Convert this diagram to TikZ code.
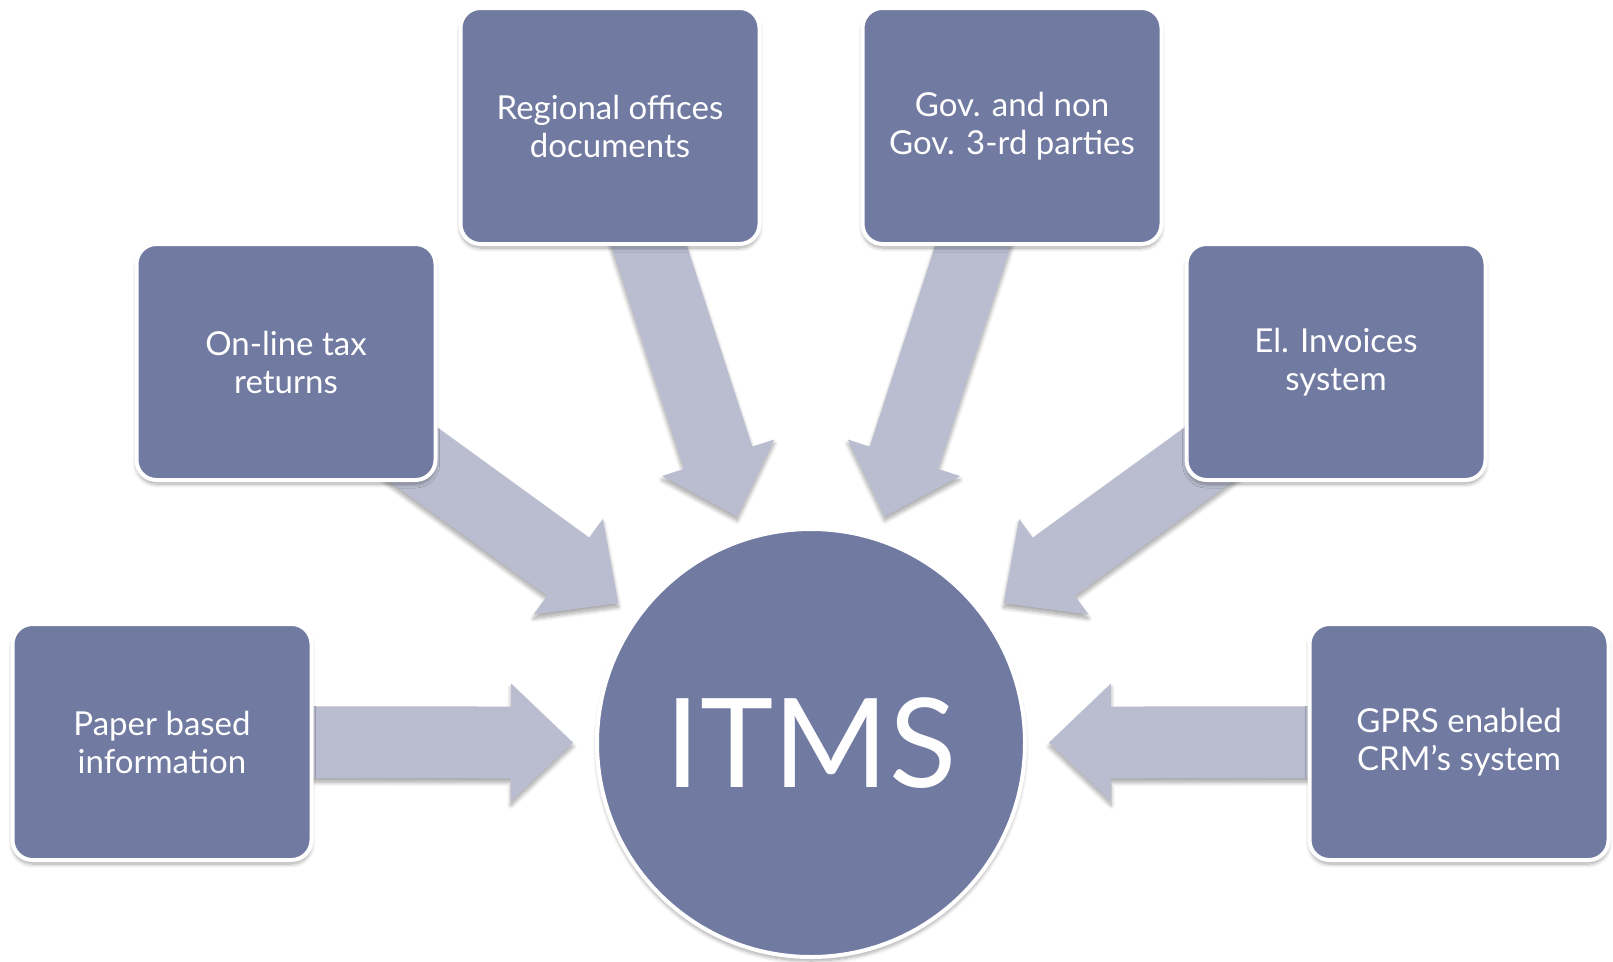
\documentclass[tikz,border=0pt]{standalone}
\usepackage{fontspec}
\setmainfont{Lato}
\usetikzlibrary{calc,shadows,shadows.blur,backgrounds}
\definecolor{boxblue}{RGB}{113,122,161}
\definecolor{arrowgray}{RGB}{185,189,207}
\tikzset{
  softshadow/.style={blur shadow={shadow xshift=0pt, shadow yshift=-4pt,
    shadow blur radius=4pt, shadow blur steps=8, shadow opacity=35}},
  boxstyle/.style={rectangle, rounded corners=20pt, fill=boxblue, draw=white,
    line width=4pt, minimum width=299pt, minimum height=236pt, text=white,
    align=center, font=\fontsize{33}{38}\selectfont, softshadow},
  hubstyle/.style={circle, fill=boxblue, draw=white, line width=4pt,
    minimum size=428pt, text=white, font=\fontsize{124}{130}\selectfont,
    softshadow},
  arrowstyle/.style={fill=arrowgray, softshadow}
}
\newcommand\blockarrow[2]{%
  \coordinate (hb) at ($(#2)!62pt!(#1)$);
  \fill[arrowstyle] ($(#1)!36pt!90:(#2)$) -- ($(hb)!36pt!90:(#2)$)
    -- ($(hb)!59pt!90:(#2)$) -- (#2) -- ($(hb)!59pt!-90:(#2)$)
    -- ($(hb)!36pt!-90:(#2)$) -- ($(#1)!36pt!-90:(#2)$) -- cycle;
}
\begin{document}
\begin{tikzpicture}[x=1pt,y=-1pt]
\useasboundingbox (0,0) rectangle (1613,961);
\node[hubstyle] (itms) at (811,743) {ITMS};
\node[boxstyle] (paper) at (162,742) {Paper based\\information};
\node[boxstyle] (gprs) at (1459,742) {GPRS enabled\\CRM’s system};
\node[boxstyle] (online) at (286,362) {On-line tax\\returns};
\node[boxstyle] (elinv) at (1336,362) {El. Invoices\\system};
\node[boxstyle] (regional) at (610,126) {Regional offices\\documents};
\node[boxstyle] (gov) at (1012,126) {Gov. and non\\Gov. 3-rd parties};
\foreach \b in {paper,gprs,online,elinv,regional,gov}{
  \coordinate (tip-\b) at ($(itms.center)!238pt!(\b.center)$);
}
\begin{pgfonlayer}{background}
\foreach \b in {paper,gprs,online,elinv,regional,gov}{
  \blockarrow{\b.center}{tip-\b}
}
\end{pgfonlayer}
\end{tikzpicture}
\end{document}
